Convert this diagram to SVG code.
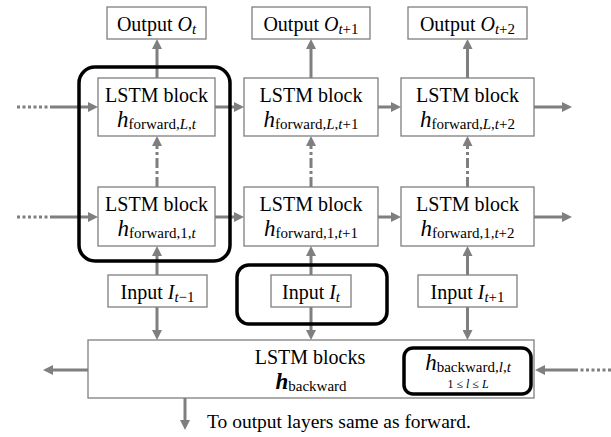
<svg xmlns="http://www.w3.org/2000/svg" width="611" height="437" viewBox="0 0 611 437">
<style>
text{font-family:'Liberation Serif','DejaVu Serif',serif;fill:#000;}
.t{font-size:20px;text-anchor:middle;}
.m{font-style:italic;}
.h{font-size:23px;font-style:italic;}
.s{font-size:15px;}
.box{fill:#fff;stroke:#7f7f7f;stroke-width:1.3;}
.hl{fill:none;stroke:#000;stroke-width:3.5;}
.a{fill:none;stroke:#7f7f7f;stroke-width:3;marker-end:url(#ah);}
.p{fill:none;stroke:#7f7f7f;stroke-width:3;}
.dot{stroke-dasharray:3,2.5;}
.dd{stroke-dasharray:10,3,3,3;}
</style>
<defs>
<marker id="ah" markerUnits="userSpaceOnUse" markerWidth="10" markerHeight="10" refX="6" refY="5" orient="auto">
<path d="M0,0 L10,5 L0,10 z" fill="#7f7f7f"/>
</marker>
</defs>

<g id="out-t"><rect class="box" x="107" y="7" width="99" height="32"/><text class="t" x="156.5" y="31">Output <tspan class="m">O</tspan><tspan class="s m" dy="3">t</tspan></text></g>
<g id="out-t1"><rect class="box" x="252" y="7" width="118" height="32"/><text class="t" x="311" y="31">Output <tspan class="m">O</tspan><tspan class="s" dy="3"><tspan class="m">t</tspan>+1</tspan></text></g>
<g id="out-t2"><rect class="box" x="408" y="7" width="119" height="32"/><text class="t" x="467.5" y="31">Output <tspan class="m">O</tspan><tspan class="s" dy="3"><tspan class="m">t</tspan>+2</tspan></text></g>

<g id="lstm-L-t"><rect class="box" x="98" y="78" width="117" height="58"/><text class="t" x="156.5" y="102">LSTM block</text><text class="t" x="156.5" y="127"><tspan class="h">h</tspan><tspan class="s" dy="2">forward,<tspan class="m">L</tspan>,<tspan class="m">t</tspan></tspan></text></g>
<g id="lstm-L-t1"><rect class="box" x="244" y="78" width="134" height="58"/><text class="t" x="311" y="102">LSTM block</text><text class="t" x="311" y="127"><tspan class="h">h</tspan><tspan class="s" dy="2">forward,<tspan class="m">L</tspan>,<tspan class="m">t</tspan>+1</tspan></text></g>
<g id="lstm-L-t2"><rect class="box" x="401" y="78" width="133" height="58"/><text class="t" x="467.5" y="102">LSTM block</text><text class="t" x="467.5" y="127"><tspan class="h">h</tspan><tspan class="s" dy="2">forward,<tspan class="m">L</tspan>,<tspan class="m">t</tspan>+2</tspan></text></g>

<g id="lstm-1-t"><rect class="box" x="98" y="187" width="117" height="59"/><text class="t" x="156.5" y="211">LSTM block</text><text class="t" x="156.5" y="236"><tspan class="h">h</tspan><tspan class="s" dy="2">forward,1,<tspan class="m">t</tspan></tspan></text></g>
<g id="lstm-1-t1"><rect class="box" x="244" y="187" width="134" height="59"/><text class="t" x="311" y="211">LSTM block</text><text class="t" x="311" y="236"><tspan class="h">h</tspan><tspan class="s" dy="2">forward,1,<tspan class="m">t</tspan>+1</tspan></text></g>
<g id="lstm-1-t2"><rect class="box" x="401" y="187" width="133" height="59"/><text class="t" x="467.5" y="211">LSTM block</text><text class="t" x="467.5" y="236"><tspan class="h">h</tspan><tspan class="s" dy="2">forward,1,<tspan class="m">t</tspan>+2</tspan></text></g>

<g id="in-t0"><rect class="box" x="108" y="275" width="99" height="32"/><text class="t" x="157.5" y="299">Input <tspan class="m">I</tspan><tspan class="s" dy="3"><tspan class="m">t</tspan>−1</tspan></text></g>
<g id="in-t1"><rect class="box" x="271" y="275" width="80" height="32"/><text class="t" x="311" y="299">Input <tspan class="m">I</tspan><tspan class="s m" dy="3">t</tspan></text></g>
<g id="in-t2"><rect class="box" x="418" y="275" width="99" height="32"/><text class="t" x="467.5" y="299">Input <tspan class="m">I</tspan><tspan class="s" dy="3"><tspan class="m">t</tspan>+1</tspan></text></g>

<g id="backward"><rect class="box" x="88" y="340" width="446" height="58"/><text class="t" x="310" y="364">LSTM blocks</text><text class="t" x="311" y="389"><tspan class="h" font-weight="bold">h</tspan><tspan class="s" dy="2">backward</tspan></text></g>

<g id="connectors">
<line class="p dot" x1="17" y1="107" x2="50" y2="107"/>
<line class="a" x1="50" y1="107" x2="94" y2="107"/>
<line class="a" x1="215" y1="107" x2="240" y2="107"/>
<line class="a" x1="378" y1="107" x2="397" y2="107"/>
<line class="a" x1="534" y1="107" x2="568" y2="107"/>
<line class="p dot" x1="17" y1="217" x2="50" y2="217"/>
<line class="a" x1="50" y1="217" x2="94" y2="217"/>
<line class="a" x1="215" y1="217" x2="240" y2="217"/>
<line class="a" x1="378" y1="217" x2="397" y2="217"/>
<line class="a" x1="534" y1="217" x2="568" y2="217"/>
<line class="a" x1="157" y1="78" x2="157" y2="43"/>
<line class="a" x1="311" y1="78" x2="311" y2="43"/>
<line class="a" x1="467.5" y1="78" x2="467.5" y2="43"/>
<line class="a dd" x1="157" y1="187" x2="157" y2="140"/>
<line class="a dd" x1="311" y1="187" x2="311" y2="140"/>
<line class="a dd" x1="467.5" y1="187" x2="467.5" y2="140"/>
<line class="a" x1="157" y1="275" x2="157" y2="250"/>
<line class="a" x1="311" y1="275" x2="311" y2="250"/>
<line class="a" x1="467.5" y1="275" x2="467.5" y2="250"/>
<line class="a" x1="157" y1="307" x2="157" y2="336"/>
<line class="a" x1="311" y1="307" x2="311" y2="336"/>
<line class="a" x1="467.5" y1="307" x2="467.5" y2="336"/>
<line class="a" x1="88" y1="370" x2="47" y2="370"/>
<line class="p dot" x1="611" y1="370" x2="575" y2="370"/>
<line class="a" x1="575" y1="370" x2="539" y2="370"/>
<line class="a" x1="185" y1="398" x2="185" y2="426"/>
</g>

<g id="highlight-col-t"><rect class="hl" x="79" y="67" width="151" height="194" rx="16"/></g>
<g id="highlight-in-t"><rect class="hl" x="237" y="265" width="150" height="59" rx="12"/></g>
<g id="backward-inner"><rect class="hl" x="404" y="348" width="127" height="46" rx="9" fill="#fff"/><text class="t" x="468" y="370"><tspan class="h">h</tspan><tspan class="s" dy="2">backward,<tspan class="m">l</tspan>,<tspan class="m">t</tspan></tspan></text><text x="468" y="388" font-size="12" text-anchor="middle">1 ≤ <tspan class="m">l</tspan> ≤ <tspan class="m">L</tspan></text></g>

<text x="207" y="428" font-size="19.5">To output layers same as forward.</text>
</svg>
